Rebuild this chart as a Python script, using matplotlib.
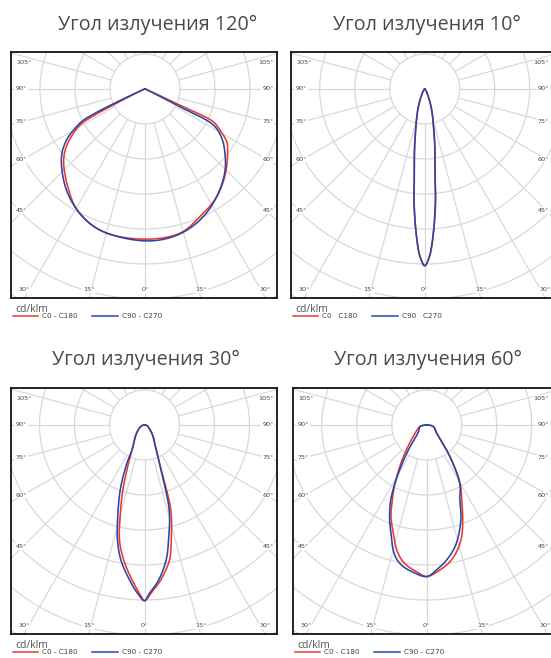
import numpy as np
import matplotlib.pyplot as plt

# ---------------- data ----------------
titles = ["Угол излучения 120°", "Угол излучения 10°",
          "Угол излучения 30°", "Угол излучения 60°"]
unit_label = "cd/klm"
legend_red = ["C0 - C180", "C0   C180", "C0 - C180", "C0 - C180"]
legend_blue = ["C90 - C270", "C90   C270", "C90 - C270", "C90 - C270"]

side_ticks = [105, 90, 75, 60, 45]
bottom_ticks = [30, 15, 0, 15, 30]

# signed gamma angle (negative = left half), intensity in ring units
p120_red_ang = [-90, -75, -67, -64, -62.5, -61, -55, -49, -37, -28, -16, 0,
                13.6, 23.3, 33.6, 43.7, 54.5, 57.2, 61.3, 64.4, 65, 66, 70, 80, 90]
p120_red_val = [0, 0.03, 0.15, 0.6, 1.7, 2.12, 2.69, 3.08, 3.62, 4.01, 4.25, 4.29,
                4.24, 3.97, 3.70, 3.33, 2.90, 2.78, 2.44, 2.16, 1.2, 0.4, 0.08, 0.02, 0]
p120_blue_ang = [-90, -75, -68, -65.5, -64.3, -63, -60.7, -57, -51, -39, -29, -18, 0,
                 12, 22.8, 33, 43.7, 51.2, 57.3, 62.2, 63, 64, 68, 80, 90]
p120_blue_val = [0, 0.03, 0.15, 0.6, 1.5, 2.0, 2.29, 2.67, 3.07, 3.61, 3.97, 4.23, 4.34,
                 4.28, 4.06, 3.72, 3.30, 2.93, 2.61, 2.21, 1.2, 0.4, 0.08, 0.02, 0]

p10_red_ang = [-90, -40, -25.6, -18.4, -11.9, -9.1, -6.7, -5.5, -3.4, -1.6, 0,
               1.6, 3.4, 5.5, 6.7, 9.1, 11.9, 18.4, 25.6, 40, 90]
p10_red_val = [0, 0.05, 0.24, 0.63, 1.29, 1.86, 2.52, 3.19, 4.13, 4.79, 5.05,
               4.80, 4.16, 3.25, 2.58, 1.90, 1.31, 0.64, 0.24, 0.05, 0]
p10_blue_ang = [-90, -40, -25.6, -18.4, -11.9, -9.1, -6.7, -5.5, -3.4, -1.6, 0,
                1.6, 3.4, 5.5, 6.7, 9.1, 11.9, 18.4, 25.6, 40, 90]
p10_blue_val = [0, 0.05, 0.24, 0.63, 1.29, 1.86, 2.52, 3.19, 4.13, 4.79, 5.05,
                4.79, 4.13, 3.19, 2.52, 1.86, 1.29, 0.63, 0.24, 0.05, 0]

p30_red_ang = [-90, -75, -58, -40.7, -27.2, -22.7, -18.4, -14.9, -12.3, -8.8, -4.6, -1.7, 0,
               2.2, 6.0, 10.5, 13.1, 17.2, 20.5, 26, 38.7, 55, 75, 90]
p30_red_val = [0, 0.08, 0.18, 0.38, 0.75, 1.19, 1.96, 2.71, 3.36, 3.90, 4.44, 4.81, 5.02,
               4.81, 4.45, 3.92, 3.37, 2.54, 1.35, 0.74, 0.37, 0.16, 0.08, 0]
p30_blue_ang = [-90, -75, -58, -40.7, -27.2, -24.7, -20.5, -15.4, -13.2, -9.9, -5.5, -2.4, 0,
                1.7, 5.2, 9.1, 11.8, 16.2, 20.3, 26, 38.7, 55, 75, 90]
p30_blue_val = [0, 0.08, 0.18, 0.38, 0.75, 1.21, 1.98, 2.91, 3.38, 3.92, 4.45, 4.81, 5.02,
                4.81, 4.45, 3.91, 3.36, 2.53, 1.33, 0.74, 0.37, 0.16, 0.08, 0]

p60_red_ang = [-90, -76, -54.5, -36.4, -28.5, -24.6, -21.3, -17.2, -13.5, -10.5, -7.4, -3.9, 0,
               5.2, 9.7, 13.8, 17.4, 20.8, 25, 29.7, 36.3, 50.3, 76, 90]
p60_red_val = [0, 0.2, 0.41, 1.12, 1.90, 2.36, 2.81, 3.23, 3.67, 3.92, 4.08, 4.20, 4.33,
               4.16, 3.96, 3.68, 3.34, 2.90, 2.37, 1.92, 1.12, 0.37, 0.2, 0]
p60_blue_ang = [-90, -76, -51, -36.2, -30.4, -25.6, -21, -18.3, -15, -12.3, -9.4, -5.8, 0,
                4.6, 8.4, 13.1, 16.7, 20.5, 23.9, 29.5, 36.3, 50.3, 76, 90]
p60_blue_val = [0, 0.2, 0.30, 0.89, 1.60, 2.38, 2.95, 3.25, 3.70, 3.95, 4.10, 4.21, 4.33,
                4.11, 3.90, 3.57, 3.22, 2.80, 2.34, 1.92, 1.12, 0.37, 0.2, 0]

curves = [
    (p120_red_ang, p120_red_val, p120_blue_ang, p120_blue_val),
    (p10_red_ang, p10_red_val, p10_blue_ang, p10_blue_val),
    (p30_red_ang, p30_red_val, p30_blue_ang, p30_blue_val),
    (p60_red_ang, p60_red_val, p60_blue_ang, p60_blue_val),
]

# ---------------- layout (pixels) ----------------
W, H = 551, 658
SCALE = 35.0  # pixels per ring
boxes = [  # left, top, right, bottom, center x, center y
    (11, 52, 277, 298, 145, 89),
    (291, 52, 558, 298, 424.7, 89),
    (11, 388, 277, 634, 144.5, 425),
    (293, 388, 560, 634, 426.7, 425),
]
title_pos = [(158, 30), (427, 30), (146, 365), (428, 365)]

RED = "#e8392c"
BLUE = "#2b45a6"
GRID = "#d9d9d9"
TXT = "#444444"

fig = plt.figure(figsize=(W / 100, H / 100), dpi=100)


def fx(x):
    return x / W


def fy(y):
    return 1 - y / H


def smooth_closed(P, n=24, alpha=0.5):
    """Centripetal Catmull-Rom through closed list of points."""
    P = np.asarray(P, float)
    keep = [0]
    for k in range(1, len(P)):
        if np.hypot(*(P[k] - P[keep[-1]])) > 1e-6:
            keep.append(k)
    P = P[keep]
    if np.hypot(*(P[0] - P[-1])) < 1e-6:
        P = P[:-1]
    m = len(P)
    out = []
    for i in range(m):
        p0, p1, p2, p3 = P[(i - 1) % m], P[i], P[(i + 1) % m], P[(i + 2) % m]
        t0 = 0.0
        t1 = t0 + np.hypot(*(p1 - p0)) ** alpha
        t2 = t1 + np.hypot(*(p2 - p1)) ** alpha
        t3 = t2 + np.hypot(*(p3 - p2)) ** alpha
        t = np.linspace(t1, t2, n, endpoint=False)[:, None]
        a1 = (t1 - t) / (t1 - t0) * p0 + (t - t0) / (t1 - t0) * p1
        a2 = (t2 - t) / (t2 - t1) * p1 + (t - t1) / (t2 - t1) * p2
        a3 = (t3 - t) / (t3 - t2) * p2 + (t - t2) / (t3 - t2) * p3
        b1 = (t2 - t) / (t2 - t0) * a1 + (t - t0) / (t2 - t0) * a2
        b2 = (t3 - t) / (t3 - t1) * a2 + (t - t1) / (t3 - t1) * a3
        c = (t2 - t) / (t2 - t1) * b1 + (t - t1) / (t2 - t1) * b2
        out.append(c)
    out = np.vstack(out)
    return np.vstack([out, out[:1]])


for i in range(4):
    L, T, R, B, cx, cy = boxes[i]
    ax = fig.add_axes([fx(L), fy(B), (R - L) / W, (B - T) / H])
    xmin, xmax = (L - cx) / SCALE, (R - cx) / SCALE
    ymin, ymax = (cy - B) / SCALE, (cy - T) / SCALE
    ax.set_xlim(xmin, xmax)
    ax.set_ylim(ymin, ymax)
    ax.set_xticks([])
    ax.set_yticks([])
    for s in ax.spines.values():
        s.set_linewidth(1.3)
        s.set_color("#111111")

    # grid
    t = np.linspace(0, 2 * np.pi, 400)
    for rr in range(1, 10):
        ax.plot(rr * np.cos(t), rr * np.sin(t), color=GRID, lw=0.9, zorder=1)
    for a in range(0, 360, 15):
        ar = np.radians(a)
        ax.plot([np.sin(ar) * 1, np.sin(ar) * 12], [-np.cos(ar) * 1, -np.cos(ar) * 12],
                color=GRID, lw=0.9, zorder=1)

    # angle labels
    bb = dict(facecolor="white", edgecolor="none", pad=0.6)
    xl = xmin + 0.35
    xr_label = min(xmax - 0.1, (549 - cx) / SCALE)
    for a in side_ticks:
        ar = np.radians(a)
        if abs(a - 90) < 1e-6:
            yv = 0.0
        else:
            yv = -abs(xl) / np.tan(ar)
        yv = min(yv, ymax - 0.3)
        ax.text(xmin + 0.14, yv, f"{a}°", fontsize=4.6, color=TXT, ha="left",
                va="center", bbox=bb, zorder=2)
        ax.text(xr_label, yv, f"{a}°", fontsize=4.6, color=TXT, ha="right",
                va="center", bbox=bb, zorder=2)
    yb = ymin + 0.23
    for k, a in enumerate(bottom_ticks):
        sgn = -1 if k < 2 else 1
        xv = sgn * abs(ymin) * np.tan(np.radians(a))
        xv = min(xv, (545 - cx) / SCALE)
        ax.text(xv, yb, f"{a}°", fontsize=4.6, color=TXT, ha="center",
                va="center", bbox=bb, zorder=2)

    # curves
    ra, rv, ba, bv = curves[i]
    for ang, val, col, z in ((ra, rv, RED, 3), (ba, bv, BLUE, 4)):
        thr = np.radians(np.asarray(ang, float))
        r = np.asarray(val, float)
        pts = np.column_stack([r * np.sin(thr), -r * np.cos(thr)])
        sm = smooth_closed(pts)
        ax.plot(sm[:, 0], sm[:, 1], color=col, lw=1.15, zorder=z,
                solid_joinstyle="round")

    # title
    tx, ty = title_pos[i]
    fig.text(fx(tx), fy(ty), titles[i], fontsize=14.2, family="Open Sans",
             color="#4a4a4a", ha="center", va="baseline")

    # legend
    fig.text(fx(L + 4), fy(B + 14), unit_label, fontsize=7.5, color="#555555",
             ha="left", va="baseline", family="Open Sans")
    ly = B + 18
    fig.add_artist(plt.Line2D([fx(L + 2), fx(L + 27)], [fy(ly), fy(ly)], color=RED, lw=1.1))
    fig.text(fx(L + 31), fy(ly), legend_red[i], fontsize=5.2, color=TXT,
             ha="left", va="center")
    fig.add_artist(plt.Line2D([fx(L + 81), fx(L + 107)], [fy(ly), fy(ly)], color=BLUE, lw=1.1))
    fig.text(fx(L + 111), fy(ly), legend_blue[i], fontsize=5.2, color=TXT,
             ha="left", va="center")

fig.savefig("out.png", dpi=100, facecolor="white")
